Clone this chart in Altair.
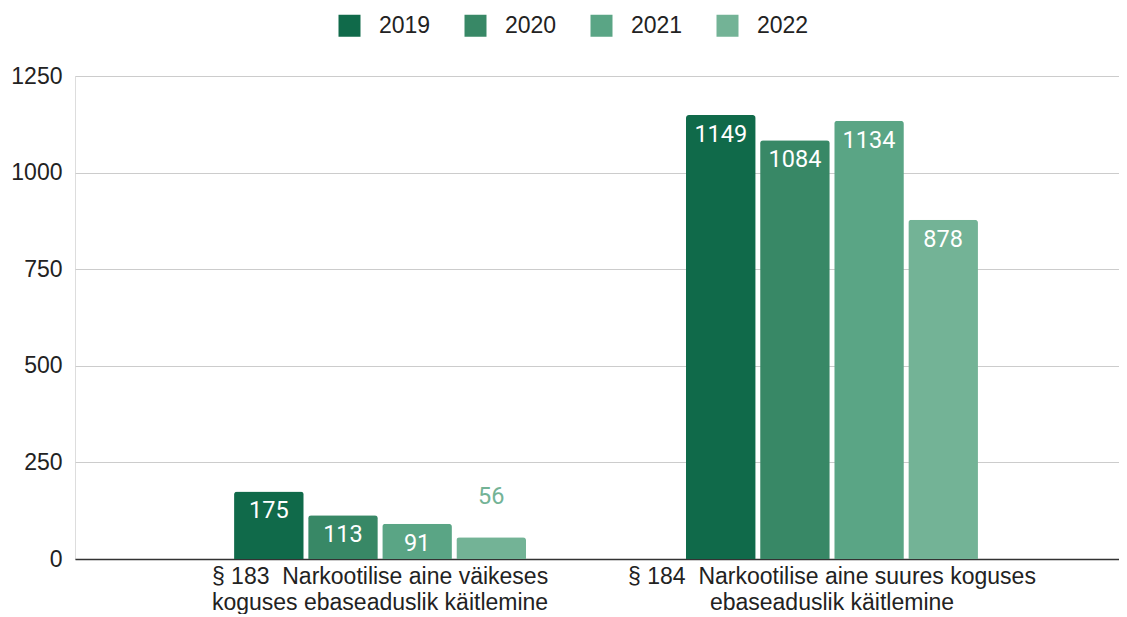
import altair as alt
import pandas as pd

categories = [
    "§ 183\u00a0 Narkootilise aine väikeses|koguses ebaseaduslik käitlemine",
    "§ 184\u00a0 Narkootilise aine suures koguses|ebaseaduslik käitlemine",
]
years = ["2019", "2020", "2021", "2022"]
values_183 = [175, 113, 91, 56]
values_184 = [1149, 1084, 1134, 878]
colors = ["#106a4a", "#388866", "#5aa585", "#73b396"]

rows = []
for cat, vals in zip(categories, [values_183, values_184]):
    for y, v in zip(years, vals):
        rows.append({"category": cat, "year": y, "value": v})
df = pd.DataFrame(rows)

x_enc = alt.X(
    "category:N",
    sort=categories,
    title=None,
    scale=alt.Scale(paddingInner=0.354, paddingOuter=0.332, align=0.53),
    axis=alt.Axis(
        labelAngle=0,
        labelExpr="split(datum.label, '|')",
        labelFont="Liberation Sans",
        labelFontSize=23,
        labelColor="#222222",
        labelLineHeight=26,
        labelPadding=6,
        labelBaseline="top",
        labelLimit=0,
        ticks=False,
        domainColor="#333333",
        domainWidth=1.5,
        grid=False,
    ),
)
xoff = alt.XOffset("year:N", sort=years, scale=alt.Scale(paddingInner=0.06))
y_enc = alt.Y(
    "value:Q",
    title=None,
    scale=alt.Scale(domain=[0, 1250], nice=False),
    axis=alt.Axis(
        values=[0, 250, 500, 750, 1000, 1250],
        format="d",
        labelFont="Liberation Sans",
        labelFontSize=23,
        labelColor="#222222",
        labelPadding=13,
        ticks=False,
        domain=False,
        gridColor="#cccccc",
        minExtent=67,
        maxExtent=67,
    ),
)

bars = alt.Chart(df).mark_bar(cornerRadiusTopLeft=3, cornerRadiusTopRight=3).encode(
    x=x_enc,
    xOffset=xoff,
    y=y_enc,
    color=alt.Color(
        "year:N",
        sort=years,
        scale=alt.Scale(domain=years, range=colors),
        legend=alt.Legend(
            title=None,
            orient="none",
            direction="horizontal",
            legendX=263,
            legendY=-62,
            symbolType="square",
            symbolSize=484,
            symbolStrokeWidth=0,
            symbolOpacity=1,
            labelFont="Liberation Sans",
            labelFontSize=23,
            labelColor="#222222",
            labelOffset=18,
            columnPadding=33,
        ),
    ),
)

inside = alt.Chart(df).transform_filter("datum.value >= 80").mark_text(
    dy=20, baseline="middle", font="Roboto", fontSize=23.5, color="white"
).encode(
    x=alt.X("category:N", sort=categories),
    xOffset=alt.XOffset("year:N", sort=years),
    y="value:Q",
    text="value:Q",
)

outside = alt.Chart(df).transform_filter("datum.value < 80").mark_text(
    dy=-40, baseline="middle", font="Roboto", fontSize=23.5, color="#73b396"
).encode(
    x=alt.X("category:N", sort=categories),
    xOffset=alt.XOffset("year:N", sort=years),
    y="value:Q",
    text="value:Q",
)

chart = alt.layer(bars, inside, outside).properties(
    width=1044,
    height=483,
    padding={"left": 0, "top": 6, "right": 0, "bottom": 0},
).configure_view(stroke=None).configure(background="white")

chart.save("out.html", embed_options={"renderer": "svg", "actions": False})
